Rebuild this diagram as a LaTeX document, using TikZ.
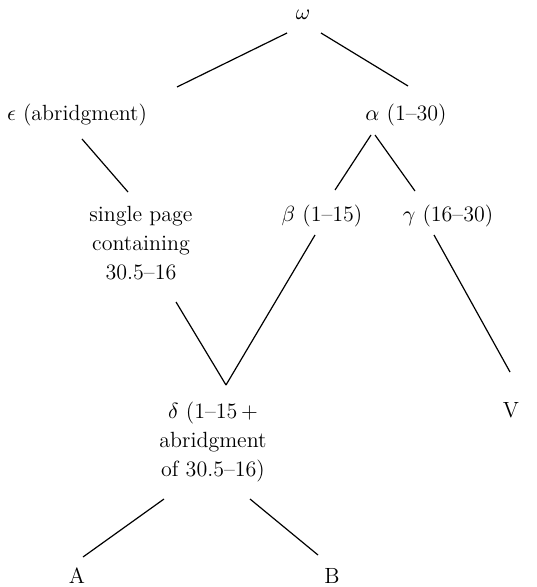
\documentclass[tikz,border=0pt]{standalone}
\usepackage{amsmath, amssymb}

\begin{document}
\begin{tikzpicture}[
    x=0.5pt, y=-0.5pt,
    witness/.style={
      inner sep=0pt,
      align=center,
      font=\fontsize{11}{14.5}\selectfont
    },
    oneline/.style={
      witness,
      anchor=base
    },
    stemma/.style={
      line width=0.6pt,
      black
    }
  ]
    \useasboundingbox (0,0) rectangle (536,587);

    % Archetype
    \node[oneline] (omega) at (303,20) {$\omega$};

    % Row 1
    \node[oneline] (eps) at (77,121) {$\epsilon$ (abridgment)};
    \node[oneline] (alpha) at (406,121) {$\alpha$ (1--30)};

    % Row 2
    \node[witness] (single) at (141,243) {
      single page\\
      containing\\
      30.5--16
    };
    \node[oneline] (beta) at (322,221) {$\beta$ (1--15)};
    \node[oneline] (gamma) at (448,221) {$\gamma$ (16--30)};

    % Row 3
    \node[witness] (delta) at (213,442) {
      $\delta$ (1--15\,+\\
      abridgment\\
      of 30.5--16)
    };
    \node[oneline] (V) at (511,417) {V};

    % Row 4
    \node[oneline] (A) at (77,583) {A};
    \node[oneline] (B) at (332,583) {B};

    % Connections
    \draw[stemma] ([shift={(-16,13)}]omega.base) -- ([shift={(100,-34)}]eps.base);
    \draw[stemma] ([shift={(18,13)}]omega.base) -- ([shift={(2,-35)}]alpha.base);
    \draw[stemma] ([shift={(5,18)}]eps.base) -- ([shift={(-13,-51)}]single.center);
    \draw[stemma] ([shift={(-35,14)}]alpha.base) -- ([shift={(13,-31)}]beta.base);
    \draw[stemma] ([shift={(-31,14)}]alpha.base) -- ([shift={(-33,-30)}]gamma.base);
    \draw[stemma] ([shift={(35,59)}]single.center) -- ([shift={(13,-57)}]delta.center);
    \draw[stemma] ([shift={(-7,14)}]beta.base) -- ([shift={(13,-57)}]delta.center);
    \draw[stemma] ([shift={(-14,14)}]gamma.base) -- ([shift={(-1,-45)}]V.base);
    \draw[stemma] ([shift={(-49,57)}]delta.center) -- ([shift={(6,-26)}]A.base);
    \draw[stemma] ([shift={(37,57)}]delta.center) -- ([shift={(-14,-28)}]B.base);

  \end{tikzpicture}
\end{document}
